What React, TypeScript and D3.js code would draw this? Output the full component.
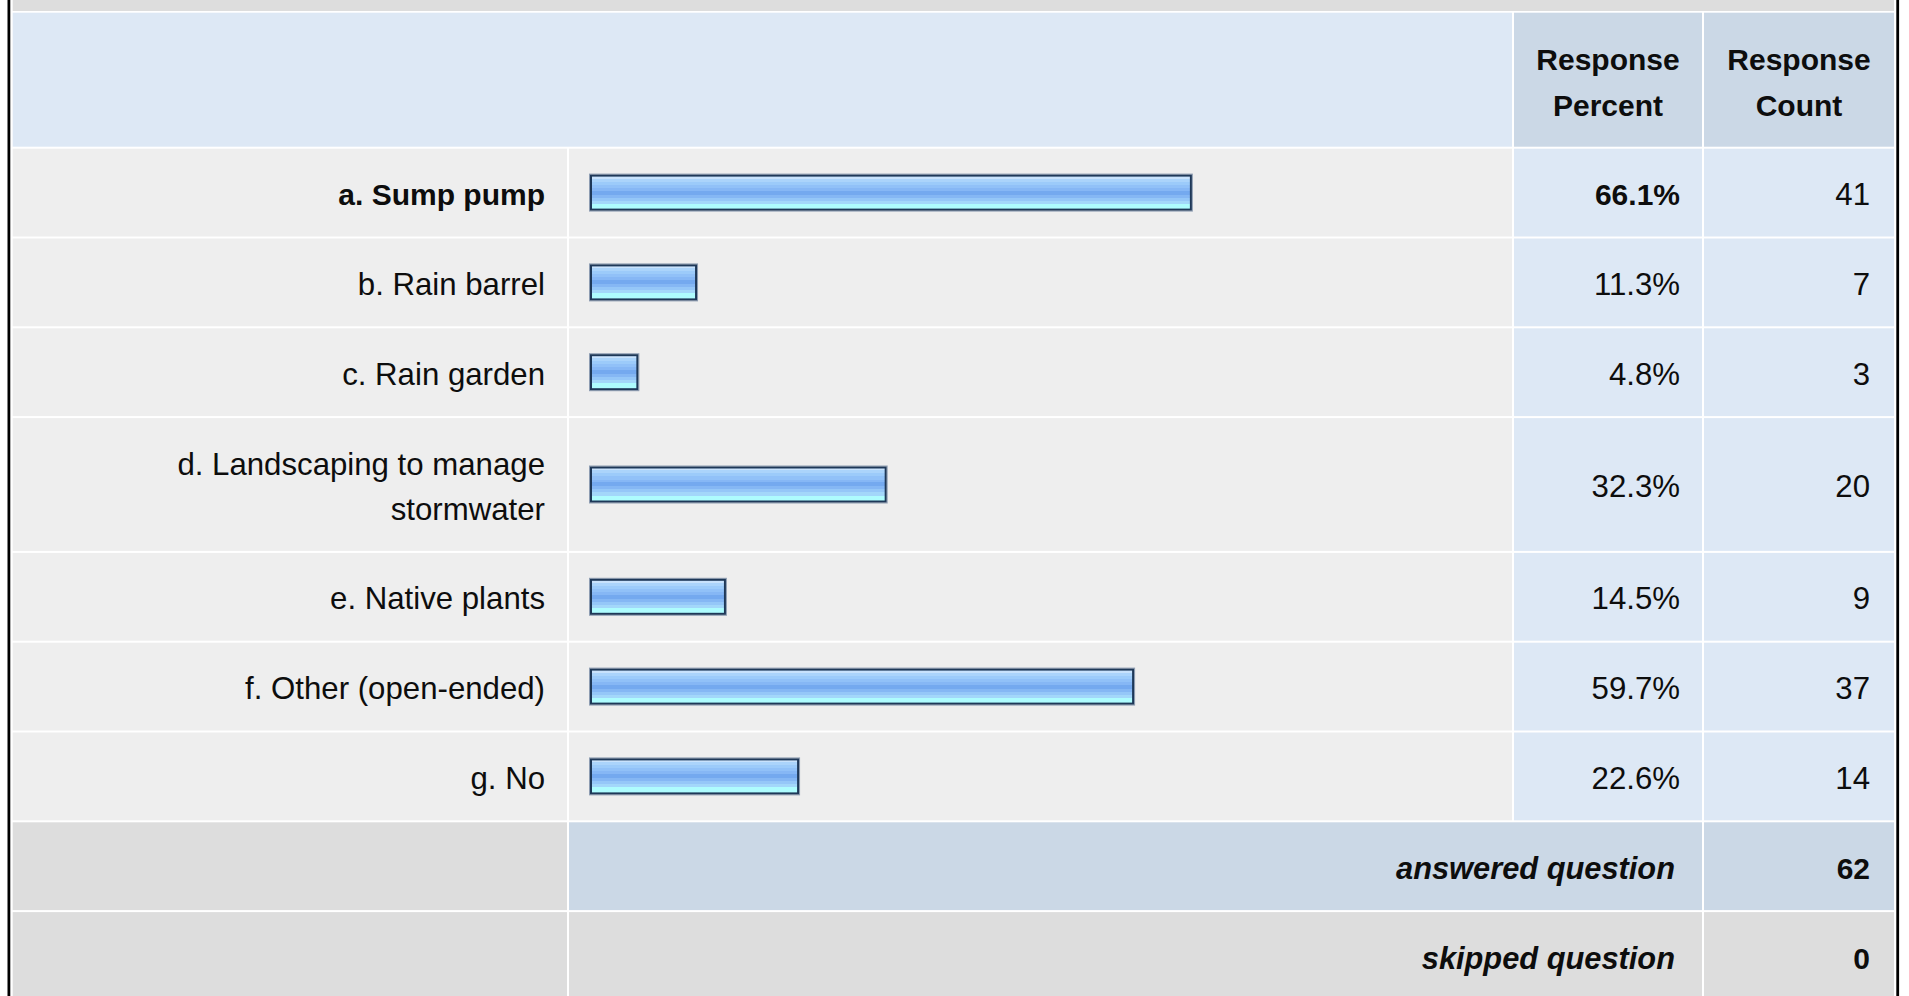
import React from "react";
import * as d3 from "d3";

// ---- data ----
const categoryLines: string[][] = [
  ["a. Sump pump"],
  ["b. Rain barrel"],
  ["c. Rain garden"],
  ["d. Landscaping to manage", "stormwater"],
  ["e. Native plants"],
  ["f. Other (open-ended)"],
  ["g. No"],
];
const responsePercent = [66.1, 11.3, 4.8, 32.3, 14.5, 59.7, 22.6];
const responseCount = [41, 7, 3, 20, 9, 37, 14];
const headerPercent = ["Response", "Percent"];
const headerCount = ["Response", "Count"];
const summaryLabels = ["answered question", "skipped question"];
const summaryValues = [62, 0];
const highlightIndex = 0;

// ---- layout ----
const W = 1909;
const H = 996;
const colLabel = [12.7, 567];
const colBar = [569, 1512];
const colPct = [1514, 1702];
const colCnt = [1704, 1894];
const headerTop = 12.7;
const headerBottom = 146.7;
const rowStart = 148.7;
const baseH = 87.8;
const gap = 2;
const lineH = 45;
const textOff = 12.5;
const FONT = "'Liberation Sans', Arial, Helvetica, sans-serif";
const FS_REG = 31.2;
const FS_BOLD = 30;
const FS_ITAL = 30.8;

const C_TOP = "#dddddd";
const C_HEAD = "#dde8f5";
const C_HEAD_DARK = "#cbd8e6";
const C_ROW = "#eeeeee";
const C_VAL = "#dde8f5";
const C_SUM = "#dddddd";
const TXT = "#0d0d0d";

const gradStops: [number, string][] = [
  [0, "#c8e2fc"],
  [0.0625, "#abd4fb"],
  [0.156, "#9ccbfa"],
  [0.25, "#91c1f8"],
  [0.344, "#86b7f5"],
  [0.4375, "#74a9ef"],
  [0.5625, "#85b7f4"],
  [0.656, "#95c7f8"],
  [0.75, "#a3d7fa"],
  [0.844, "#aefcfe"],
  [1, "#aefcfe"],
];

export default function App() {
  const x = d3.scaleLinear().domain([0, 100]).range([0, 903]);
  const barX0 = 590;
  const barH = 36;

  const heights = categoryLines.map((l) => baseH + (l.length - 1) * lineH);
  const cum = d3.cumsum(heights.map((h) => h + gap));
  const tops = heights.map((_, i) => rowStart + (i === 0 ? 0 : cum[i - 1]));
  const sumTop0 = rowStart + cum[cum.length - 1];
  const sumTops = summaryLabels.map((_, i) => sumTop0 + i * (baseH + gap));

  const steps: { off: number; color: string }[] = [];
  for (let i = 0; i < gradStops.length - 1; i++) {
    steps.push({ off: gradStops[i][0], color: gradStops[i][1] });
    steps.push({ off: gradStops[i + 1][0], color: gradStops[i][1] });
  }

  const cellRect = (x0: number, x1: number, y0: number, y1: number, fill: string, key: string) => (
    <rect key={key} x={x0} y={y0} width={x1 - x0} height={y1 - y0} fill={fill} />
  );

  const headerCenter = (headerTop + headerBottom) / 2;

  return (
    <svg
      width={W}
      height={H}
      style={{ position: "absolute", left: 0, top: 0, display: "block", background: "#fff" }}
      fontFamily={FONT}
    >
      <defs>
        <linearGradient id="barGrad" x1="0" y1="0" x2="0" y2="1">
          {steps.map((s, i) => (
            <stop key={i} offset={s.off} stopColor={s.color} />
          ))}
        </linearGradient>
      </defs>
      <rect x={0} y={0} width={W} height={H} fill="#ffffff" />
      <rect x={7.5} y={0} width={2.8} height={H} fill="#000" />
      <rect x={1896.3} y={0} width={2.8} height={H} fill="#000" />
      {cellRect(colLabel[0], colCnt[1], 0, 11, C_TOP, "top")}
      {cellRect(colLabel[0], colBar[1], headerTop, headerBottom, C_HEAD, "h0")}
      {cellRect(colPct[0], colPct[1], headerTop, headerBottom, C_HEAD_DARK, "h1")}
      {cellRect(colCnt[0], colCnt[1], headerTop, headerBottom, C_HEAD_DARK, "h2")}
      {[headerPercent, headerCount].map((lines, ci) => {
        const col = ci === 0 ? colPct : colCnt;
        const cx = (col[0] + col[1]) / 2;
        return lines.map((t, li) => (
          <text
            key={`ht${ci}-${li}`}
            x={cx}
            y={headerCenter + (li - (lines.length - 1) / 2) * 46 + 13.5}
            textAnchor="middle"
            fontSize={FS_BOLD}
            fontWeight="bold"
            fill={TXT}
          >
            {t}
          </text>
        ));
      })}
      {categoryLines.map((lines, i) => {
        const y0 = tops[i];
        const y1 = y0 + heights[i];
        const cy = (y0 + y1) / 2;
        const bold = i === highlightIndex;
        const w = x(responsePercent[i]) + 5;
        return (
          <g key={`r${i}`}>
            {cellRect(colLabel[0], colLabel[1], y0, y1, C_ROW, "l")}
            {cellRect(colBar[0], colBar[1], y0, y1, C_ROW, "b")}
            {cellRect(colPct[0], colPct[1], y0, y1, C_VAL, "p")}
            {cellRect(colCnt[0], colCnt[1], y0, y1, C_VAL, "c")}
            {lines.map((t, li) => (
              <text
                key={li}
                x={colLabel[1] - 22}
                y={cy + (li - (lines.length - 1) / 2) * lineH + textOff}
                textAnchor="end"
                fontSize={bold ? FS_BOLD : FS_REG}
                fontWeight={bold ? "bold" : "normal"}
                fill={TXT}
              >
                {t}
              </text>
            ))}
            <rect
              x={barX0 - 0.5}
              y={cy - barH / 2 - 0.5}
              width={w + 1}
              height={barH + 1}
              fill="none"
              stroke="#8e9db2"
              strokeWidth={1}
            />
            <rect x={barX0} y={cy - barH / 2} width={w} height={barH} fill="#1e3858" />
            <rect
              x={barX0 + 2}
              y={cy - barH / 2 + 2}
              width={w - 4}
              height={barH - 4}
              fill="url(#barGrad)"
            />
            <text
              x={colPct[1] - 22}
              y={cy + textOff}
              textAnchor="end"
              fontSize={bold ? FS_BOLD : FS_REG}
              fontWeight={bold ? "bold" : "normal"}
              fill={TXT}
            >
              {responsePercent[i].toFixed(1) + "%"}
            </text>
            <text x={colCnt[1] - 24} y={cy + textOff} textAnchor="end" fontSize={FS_REG} fill={TXT}>
              {responseCount[i]}
            </text>
          </g>
        );
      })}
      {summaryLabels.map((lab, i) => {
        const y0 = sumTops[i];
        const y1 = y0 + baseH;
        const cy = (y0 + y1) / 2;
        const mid = i === 0 ? C_HEAD_DARK : C_SUM;
        return (
          <g key={`s${i}`}>
            {cellRect(colLabel[0], colLabel[1], y0, y1, C_SUM, "l")}
            {cellRect(colBar[0], colPct[1], y0, y1, mid, "m")}
            {cellRect(colCnt[0], colCnt[1], y0, y1, mid, "c")}
            <text
              x={colPct[1] - 27}
              y={cy + textOff}
              textAnchor="end"
              fontSize={FS_ITAL}
              fontWeight="bold"
              fontStyle="italic"
              fill={TXT}
            >
              {lab}
            </text>
            <text
              x={colCnt[1] - 24}
              y={cy + textOff}
              textAnchor="end"
              fontSize={FS_BOLD}
              fontWeight="bold"
              fill={TXT}
            >
              {summaryValues[i]}
            </text>
          </g>
        );
      })}
    </svg>
  );
}
